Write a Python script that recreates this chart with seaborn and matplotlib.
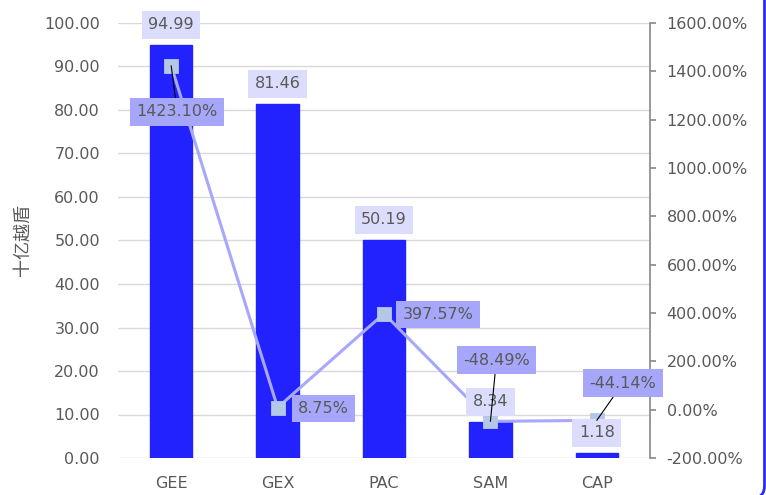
import numpy as np
import pandas as pd
import matplotlib
matplotlib.use("Agg")
import matplotlib.pyplot as plt
import seaborn as sns
from matplotlib.patches import FancyBboxPatch

categories = ["GEE", "GEX", "PAC", "SAM", "CAP"]
values = [94.99, 81.46, 50.19, 8.34, 1.18]
growth = [1423.10, 8.75, 397.57, -48.49, -44.14]
left_ticks = [0, 10, 20, 30, 40, 50, 60, 70, 80, 90, 100]
right_ticks = [-200, 0, 200, 400, 600, 800, 1000, 1200, 1400, 1600]
ylabel = "十亿越盾"

sns.set_theme(style="white")
plt.rcParams["font.family"] = ["DejaVu Sans", "Noto Sans CJK SC"]

TXT = "#595959"
BAR = "#2222ff"
LINE = "#a8a8fb"
MARK = "#b4c7e7"
BOX_BAR = "#dcdcfc"
BOX_LINE = "#a6a6fa"
FS = 11.5

df = pd.DataFrame({"cat": categories, "val": values, "pct": growth})

fig = plt.figure(figsize=(7.66, 4.95), dpi=100)
ax = fig.add_axes([118 / 766, 37 / 495, 532 / 766, 435 / 495])
sns.barplot(data=df, x="cat", y="val", ax=ax, color=BAR, width=0.4,
            saturation=1, edgecolor=BAR)
ax.set_ylim(0, 100)
ax.set_yticks(left_ticks)
ax.set_yticklabels([f"{t:.2f}" for t in left_ticks])
ax.yaxis.grid(True, color="#d9d9d9", lw=1)
ax.set_axisbelow(True)
for s in ax.spines.values():
    s.set_visible(False)
ax.tick_params(axis="y", length=0, pad=13, labelsize=FS, labelcolor=TXT)
ax.tick_params(axis="x", length=0, pad=13, labelsize=FS, labelcolor=TXT)
ax.set_xlabel("")
ax.set_ylabel(ylabel, color=TXT, fontsize=13, labelpad=8,
              family=["Noto Sans CJK SC", "DejaVu Sans"])

ax2 = ax.twinx()
sns.pointplot(data=df, x="cat", y="pct", ax=ax2, color=LINE, markers="s",
              linestyles="-", markersize=8.5)
ax2.set_ylim(-200, 1600)
ax2.set_yticks(right_ticks)
ax2.set_yticklabels([f"{t:.2f}%" for t in right_ticks])
for ln in ax2.lines:
    ln.set_linewidth(2.2)
    ln.set_markerfacecolor(MARK)
    ln.set_markeredgecolor(MARK)
for k, s in ax2.spines.items():
    s.set_visible(k == "right")
ax2.spines["right"].set_color("#8c8c8c")
ax2.tick_params(axis="y", length=4, color="#8c8c8c", pad=8, labelsize=FS,
                labelcolor=TXT, direction="out")
ax2.set_ylabel("")
ax2.set_xlabel("")
ax2.grid(False)

# bar value labels
for i, v in enumerate(values):
    ax2.annotate(f"{v:.2f}", xy=(i, v), xycoords=ax.transData,
                 xytext=(0, 20), textcoords="offset pixels",
                 ha="center", va="center", fontsize=FS, color=TXT, zorder=6,
                 bbox=dict(boxstyle="square,pad=0.4", fc=BOX_BAR, ec="none"))

# line value labels
offsets = [(6, -46), (46, -1), (54, -1), (6, 61), (26, 37)]
leaders = [True, False, False, True, True]
for i, (p, off, ld) in enumerate(zip(growth, offsets, leaders)):
    kw = {}
    if ld:
        kw["arrowprops"] = dict(arrowstyle="-", color="black", lw=0.8,
                                shrinkA=0, shrinkB=0)
    ax2.annotate(f"{p:.2f}%", xy=(i, p), xycoords="data",
                 xytext=off, textcoords="offset pixels",
                 ha="center", va="center", fontsize=FS, color=TXT, zorder=7,
                 bbox=dict(boxstyle="square,pad=0.4", fc=BOX_LINE, ec="none"),
                 **kw)

# blue frame (only right edge and bottom-right corner visible)
x0, y0 = -30 / 766, -3 / 495
frame = FancyBboxPatch((x0, y0), 764.5 / 766 - x0, 1.1,
                       boxstyle="round,pad=0,rounding_size=0.016",
                       transform=fig.transFigure, fc="none", ec="#2a2aff", lw=2,
                       clip_on=False, mutation_aspect=766 / 495)
fig.patches.append(frame)

fig.savefig("out.png", dpi=100)
